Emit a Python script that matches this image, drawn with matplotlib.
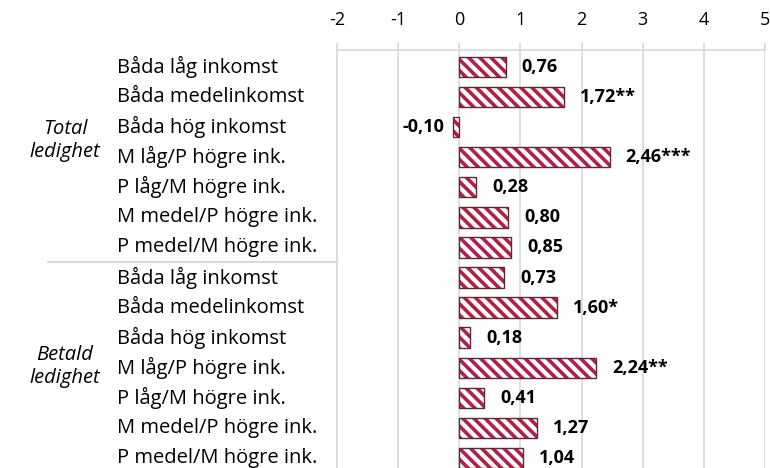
import matplotlib.pyplot as plt
from matplotlib.transforms import blended_transform_factory

plt.rcParams['font.family'] = ['Open Sans', 'DejaVu Sans']
plt.rcParams['hatch.linewidth'] = 2.6

# ----------------------------
# DATA
# ----------------------------
categories = ["Båda låg inkomst", "Båda medelinkomst", "Båda hög inkomst",
              "M låg/P högre ink.", "P låg/M högre ink.",
              "M medel/P högre ink.", "P medel/M högre ink."] * 2
values = [0.76, 1.72, -0.10, 2.46, 0.28, 0.80, 0.85,
          0.73, 1.60, 0.18, 2.24, 0.41, 1.27, 1.04]
stars = ["", "**", "", "***", "", "", "",
         "", "*", "", "**", "", "", ""]
groups = ["Total\nledighet", "Betald\nledighet"]

red = "#B0204A"
grey = "#D9D9D9"
fs = 14.5

# ----------------------------
# PLOT
# ----------------------------
fig = plt.figure(figsize=(7.7, 4.68), dpi=100)
ax = fig.add_axes([337 / 770, 0, 428 / 770, 1 - 50 / 468])

pos = list(range(len(values)))
# hatch fill (stripes take the edge colour), then a dark outline on top
ax.barh(pos, values, height=0.68, color="white", edgecolor=red,
        hatch="\\\\\\", linewidth=0, zorder=3)
ax.barh(pos, values, height=0.68, fill=False, edgecolor="#5a2a35",
        linewidth=1.0, zorder=4)

ax.set_xlim(-2, 5)
ax.set_ylim(13.33, -0.56)
ax.set_xticks(range(-2, 6))
ax.set_xticklabels([str(t) for t in range(-2, 6)], fontsize=13)
ax.xaxis.tick_top()
ax.tick_params(axis="x", length=5, color=grey, width=1.2, pad=10)
ax.set_yticks([])
ax.grid(axis="x", color=grey, linewidth=1.2, zorder=0)

for s in ["right", "bottom"]:
    ax.spines[s].set_visible(False)
ax.spines["top"].set_color(grey)
ax.spines["top"].set_linewidth(1.2)
ax.spines["left"].set_color(grey)
ax.spines["left"].set_linewidth(1.2)

# value labels
for i, (v, st) in enumerate(zip(values, stars)):
    txt = f"{v:.2f}".replace(".", ",") + st
    if v >= 0:
        ax.annotate(txt, (v, i), xytext=(11.5, 0), textcoords="offset points",
                    ha="left", va="center", fontsize=13, fontweight="bold")
    else:
        ax.annotate(txt, (v, i), xytext=(-6, 0), textcoords="offset points",
                    ha="right", va="center", fontsize=13, fontweight="bold")

# category labels
trans = blended_transform_factory(fig.transFigure, ax.transData)
for i, c in enumerate(categories):
    fig.text(117 / 770, i, c, transform=trans, ha="left", va="center", fontsize=fs)

# group labels
fig.text(65 / 770, 2.45, groups[0], transform=trans, ha="center", va="center",
         fontsize=fs, style="italic", linespacing=1.2)
fig.text(65 / 770, 9.95, groups[1], transform=trans, ha="center", va="center",
         fontsize=fs, style="italic", linespacing=1.2)

# separator between groups
ax.plot([48 / 770, 337 / 770], [6.5, 6.5], transform=trans, color=grey,
        linewidth=1.5, clip_on=False)

fig.savefig("out.png", dpi=100)
